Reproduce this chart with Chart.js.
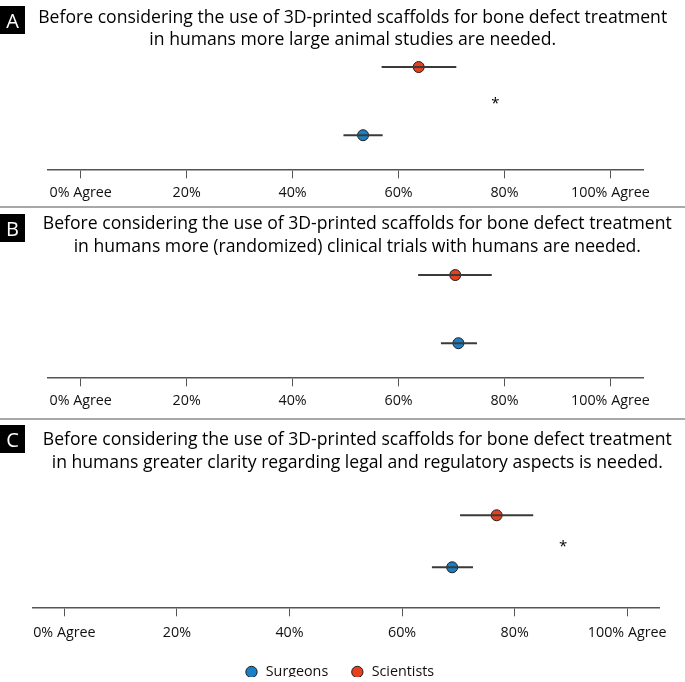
<!DOCTYPE html>
<html>
<head>
<meta charset="utf-8">
<script src="https://cdn.jsdelivr.net/npm/chart.js@4.4.1/dist/chart.umd.min.js"></script>
<style>
  html, body { margin: 0; padding: 0; background: #fff; }
  .panel { position: absolute; left: 0; width: 685px; }
  canvas { display: block; }
</style>
</head>
<body>
<div class="panel" style="top:0px"><canvas id="chartA" width="685" height="206"></canvas></div>
<div class="panel" style="top:206px"><canvas id="chartB" width="685" height="212"></canvas></div>
<div class="panel" style="top:418px"><canvas id="chartC" width="685" height="264"></canvas></div>
<script>
// --- data ---
const panelLetters = ['A', 'B', 'C'];
const questions = [
  ['Before considering the use of 3D-printed scaffolds for bone defect treatment',
   'in humans more large animal studies are needed.'],
  ['Before considering the use of 3D-printed scaffolds for bone defect treatment',
   'in humans more (randomized) clinical trials with humans are needed.'],
  ['Before considering the use of 3D-printed scaffolds for bone defect treatment',
   'in humans greater clarity regarding legal and regulatory aspects is needed.']
];
const groups = ['Surgeons', 'Scientists'];
const groupRows = [1, 2];

const surgeonMean = [53.3, 71.3, 68.9];
const surgeonLow = [49.6, 68.0, 65.3];
const surgeonHigh = [57.0, 74.8, 72.6];

const scientistMean = [63.8, 70.7, 76.8];
const scientistLow = [56.8, 63.7, 70.3];
const scientistHigh = [70.9, 77.6, 83.3];

const significance = ['*', '', '*'];
const starX = [78.3, null, 88.6];

const tickValues = [0, 20, 40, 60, 80, 100];
const tickLabels = ['0% Agree', '20%', '40%', '60%', '80%', '100% Agree'];

// --- per-panel layout (pixels / axis ranges) ---
const layouts = [
  { left: 47.3, yAxisW: 0, right: 41.7, top: 50, bottom: 0, axisH: 36.7, tickPad: 6.5,
    xMin: -6.3, xMax: 106.2, yMin: 0.5, yMax: 2.25, starY: 1.5,
    titleX: 352.7, titleY: [22.7, 45.2], boxTop: 6, sepTop: false },
  { left: 47.3, yAxisW: 0, right: 41.7, top: 52, bottom: 0, axisH: 40.7, tickPad: 6.5,
    xMin: -6.3, xMax: 106.2, yMin: 0.5, yMax: 2.25, starY: 1.5,
    titleX: 357.3, titleY: [23, 46], boxTop: 8, sepTop: true },
  { left: 19.2, yAxisW: 13.1, right: 25.7, top: 71.3, bottom: 5, axisH: 35.5, tickPad: 8.2,
    xMin: -5.7, xMax: 105.7, yMin: 0.23, yMax: 2.5, starY: 1.43,
    titleX: 357.3, titleY: [27, 50], boxTop: 7, sepTop: true,
    legendH: 34.2, legendPad: 22 }
];

const FONT = '"Open Sans", "Noto Sans", sans-serif';
const blue = '#1a80c6';
const red = '#e8401c';

const panelDecor = {
  id: 'panelDecor',
  beforeDraw(chart, args, opts) {
    const p = opts.panel, L = layouts[p];
    const ctx = chart.ctx;
    ctx.save();
    if (L.sepTop) {
      ctx.fillStyle = '#a8a8a8';
      ctx.fillRect(0, 0, chart.width, 2);
    }
    // panel letter
    ctx.fillStyle = '#000';
    ctx.fillRect(0, L.boxTop, 25, 28);
    ctx.fillStyle = '#fff';
    ctx.font = '20px ' + FONT;
    ctx.textAlign = 'center';
    ctx.textBaseline = 'alphabetic';
    ctx.fillText(panelLetters[p], 12.5, L.boxTop + 21.5);
    // question text
    ctx.fillStyle = '#000';
    ctx.font = '17.6px ' + FONT;
    questions[p].forEach((line, i) => ctx.fillText(line, L.titleX, L.titleY[i]));
    ctx.restore();
  },
  afterDatasetsDraw(chart, args, opts) {
    const p = opts.panel, L = layouts[p];
    const {ctx, scales: {x, y}} = chart;
    const lows = [surgeonLow[p], scientistLow[p]];
    const highs = [surgeonHigh[p], scientistHigh[p]];
    ctx.save();
    ctx.strokeStyle = '#3a3a3a';
    ctx.lineWidth = 2;
    groupRows.forEach((row, i) => {
      const py = y.getPixelForValue(row);
      ctx.beginPath();
      ctx.moveTo(x.getPixelForValue(lows[i]), py);
      ctx.lineTo(x.getPixelForValue(highs[i]), py);
      ctx.stroke();
    });
    if (significance[p]) {
      ctx.fillStyle = '#000';
      ctx.font = '15px ' + FONT;
      ctx.textAlign = 'center';
      ctx.textBaseline = 'alphabetic';
      ctx.fillText(significance[p], x.getPixelForValue(starX[p]), y.getPixelForValue(L.starY) + 6.5);
    }
    ctx.restore();
  }
};

function makeChart(p) {
  const L = layouts[p];
  const isLast = p === 2;
  return new Chart(document.getElementById('chart' + panelLetters[p]), {
    type: 'scatter',
    data: {
      datasets: [
        {
          label: groups[0],
          data: [{ x: surgeonMean[p], y: groupRows[0] }],
          backgroundColor: blue,
          borderColor: '#1e1e1e',
          borderWidth: 1,
          pointRadius: 5.5
        },
        {
          label: groups[1],
          data: [{ x: scientistMean[p], y: groupRows[1] }],
          backgroundColor: red,
          borderColor: '#1e1e1e',
          borderWidth: 1,
          pointRadius: 5.5
        }
      ]
    },
    options: {
      responsive: false,
      animation: false,
      events: [],
      layout: { padding: { left: L.left, right: L.right, top: L.top, bottom: L.bottom } },
      scales: {
        x: {
          type: 'linear',
          min: L.xMin,
          max: L.xMax,
          afterBuildTicks: (scale) => { scale.ticks = tickValues.map(v => ({ value: v })); },
          afterFit: (scale) => { scale.height = L.axisH; },
          ticks: {
            callback: (value, index) => tickLabels[index],
            font: { family: FONT, size: 14.3 },
            color: '#111',
            padding: L.tickPad,
            maxRotation: 0,
            autoSkip: false
          },
          grid: { drawOnChartArea: false, drawTicks: true, tickLength: 9, color: '#555', lineWidth: 1 },
          border: { display: true, color: '#555', width: 1.5 }
        },
        y: {
          display: L.yAxisW > 0,
          min: L.yMin,
          max: L.yMax,
          afterFit: (scale) => { scale.width = L.yAxisW; },
          ticks: { display: false },
          grid: { display: false },
          border: { display: false }
        }
      },
      plugins: {
        legend: {
          display: isLast,
          position: 'bottom',
          maxHeight: L.legendH,
          labels: {
            usePointStyle: true,
            pointStyle: 'circle',
            boxWidth: 14.3,
            boxHeight: 8,
            padding: L.legendPad,
            color: '#111',
            font: { family: FONT, size: 14.3 }
          }
        },
        tooltip: { enabled: false },
        panelDecor: { panel: p }
      }
    },
    plugins: [panelDecor]
  });
}

[0, 1, 2].forEach(makeChart);
</script>
</body>
</html>
